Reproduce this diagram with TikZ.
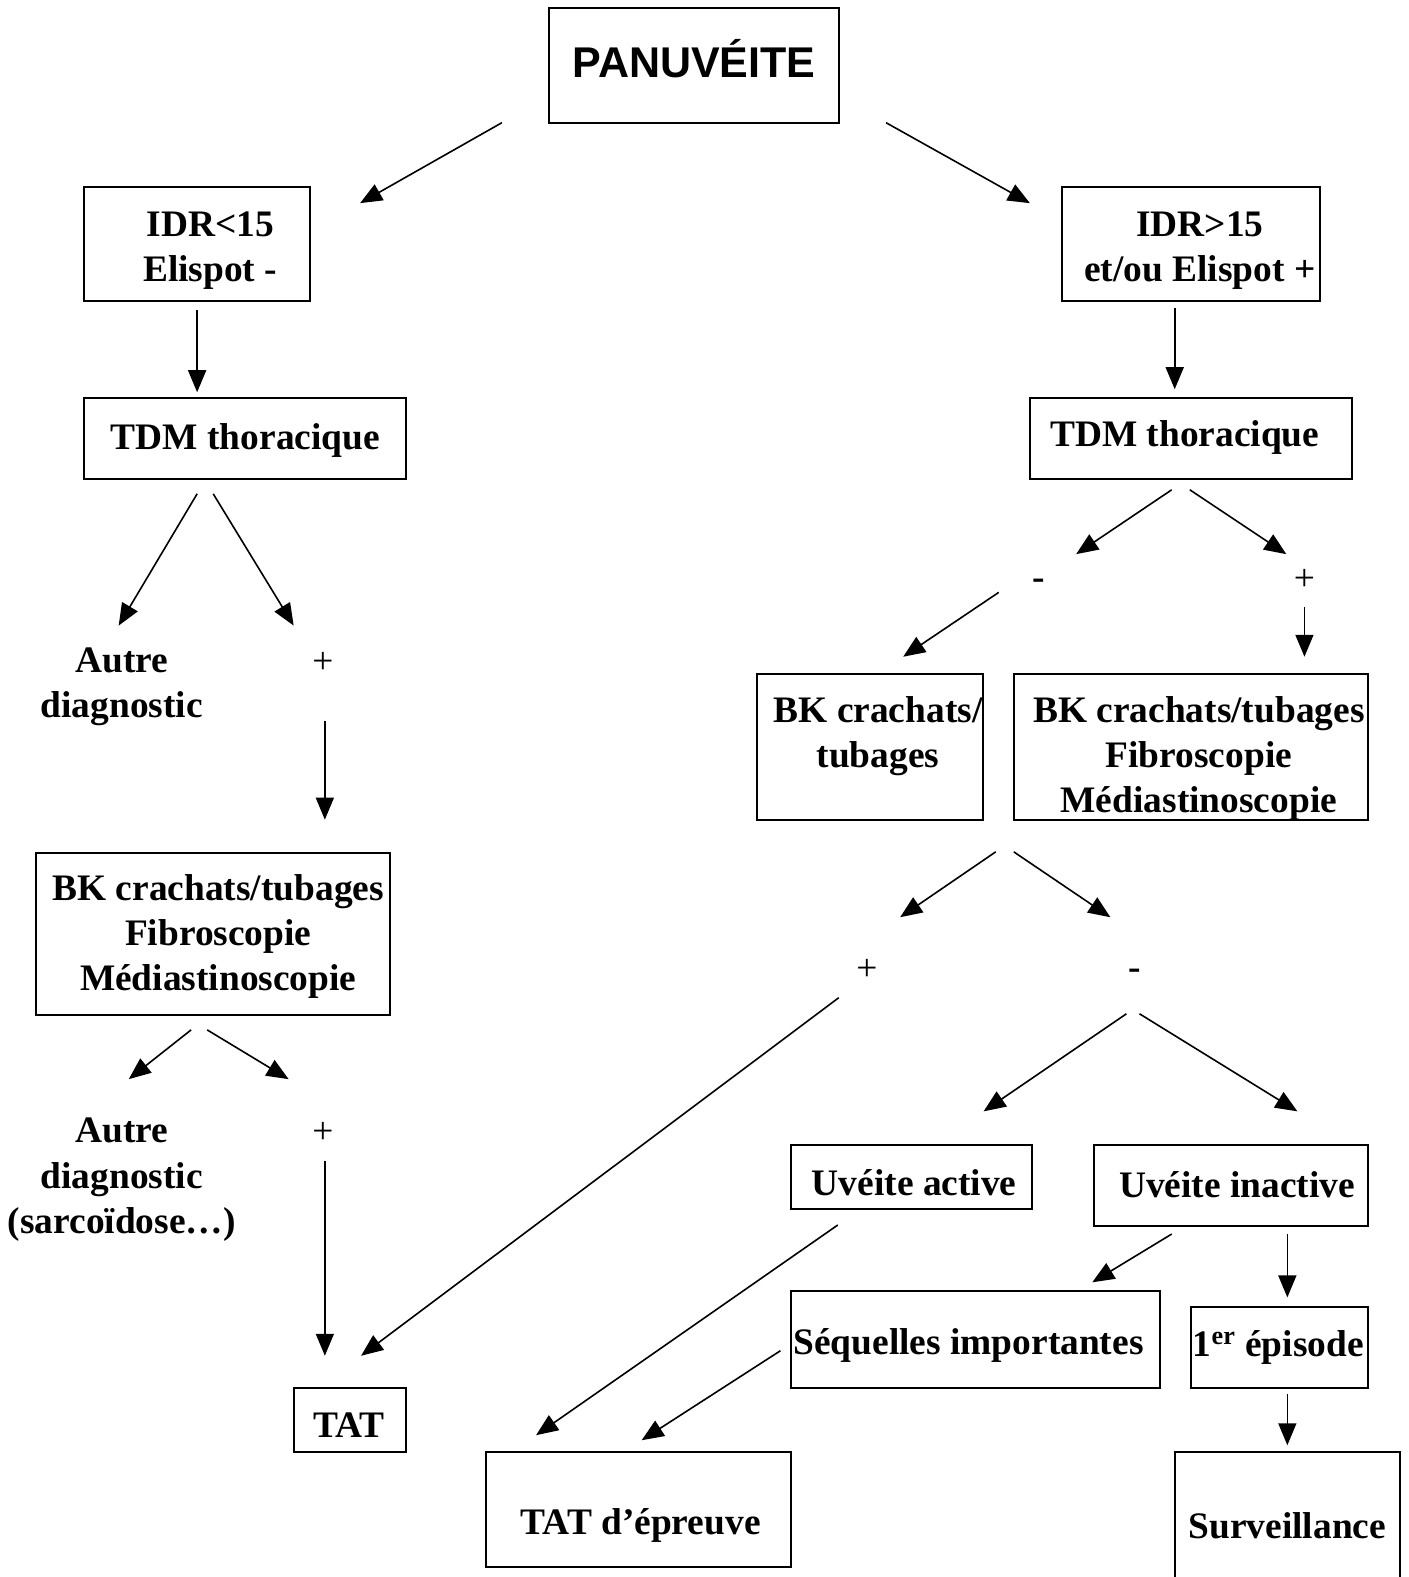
\documentclass[tikz,border=0pt]{standalone}
\usepackage{fontspec}
\setmainfont{Liberation Serif}
\newfontfamily\sansb{Liberation Sans}
\usetikzlibrary{arrows.meta,fit}
\begin{document}
\begin{tikzpicture}[x=0.50286pt,y=-0.50286pt,
  frame/.style={draw, line width=1pt, inner sep=0pt},
  lbl/.style={font=\fontsize{18.7}{22.6}\selectfont\bfseries, align=center, inner sep=0pt, yshift=-2pt},
  sgn/.style={font=\fontsize{18.7}{22.6}\selectfont, inner sep=0pt, yshift=-1pt},
  arr/.style={line width=0.8pt, -{Triangle[length=11pt,width=9pt]}}]
\useasboundingbox (0,0) rectangle (1400,1568);
\fill[white] (0,0) rectangle (1400,1568);
% boxes
\node[frame, fit={(546,8) (834,122)}] (pan) {};
\node[font=\sansb\fontsize{21.5}{24}\selectfont\bfseries, inner sep=0pt] (pant) at (690,58) {PANUVÉITE};
\node[frame, fit={(84,186) (308,299)}] (idrl) {};
\node[lbl] (idrlt) at (209,245) {IDR<15\\Elispot -};
\node[frame, fit={(1056,186) (1312,299)}] (idrr) {};
\node[lbl] (idrrt) at (1193,245) {IDR>15\\et/ou Elispot +};
\node[frame, fit={(84,396) (404,476)}] (tdml) {};
\node[lbl] (tdmlt) at (244,434) {TDM thoracique};
\node[frame, fit={(1024,396) (1344,476)}] (tdmr) {};
\node[lbl] (tdmrt) at (1178,431) {TDM thoracique};
\node[frame, fit={(753,670) (977,815)}] (bkm) {};
\node[lbl] (bkmt) at (873,728) {BK crachats/\\tubages};
\node[frame, fit={(1008,670) (1360,815)}] (bkr) {};
\node[lbl] (bkrt) at (1192,750) {BK crachats/tubages\\Fibroscopie\\Médiastinoscopie};
\node[frame, fit={(36,848) (388,1009)}] (bkl) {};
\node[lbl] (bklt) at (217,927) {BK crachats/tubages\\Fibroscopie\\Médiastinoscopie};
\node[frame, fit={(786,1138) (1026,1202)}] (uva) {};
\node[lbl] (uvat) at (909,1172) {Uvéite active};
\node[frame, fit={(1088,1138) (1360,1219)}] (uvi) {};
\node[lbl] (uvit) at (1230,1174) {Uvéite inactive};
\node[frame, fit={(786,1284) (1153,1380)}] (seq) {};
\node[lbl] (seqt) at (963,1334) {Séquelles importantes};
\node[frame, fit={(1184,1300) (1360,1380)}] (epi) {};
\node[lbl] (epit) at (1271,1336) {1\textsuperscript{er} épisode};
\node[frame, fit={(292,1380) (404,1444)}] (tat) {};
\node[lbl] (tatt) at (347,1413) {TAT};
\node[frame, fit={(483,1444) (786,1558)}] (tate) {};
\node[lbl] (tatet) at (637,1513) {TAT d’épreuve};
\begin{scope}
\clip (0,0) rectangle (1400,1568);
\node[frame, fit={(1168,1444) (1392,1590)}] (surv) {};
\end{scope}
\node[lbl] (survt) at (1280,1513) {Surveillance};
% free labels
\node[lbl] (autre1) at (121,679) {Autre\\diagnostic};
\node[sgn] (p1) at (321,657) {+};
\node[sgn] (m1) at (1033,579) {\bfseries -};
\node[sgn] (p2) at (1297,575) {+};
\node[sgn] (p3) at (862,962) {+};
\node[sgn] (m2) at (1128,967) {\bfseries -};
\node[lbl] (autre2) at (121,1169) {Autre\\diagnostic\\(sarcoïdose…)};
\node[sgn] (p4) at (321,1124) {+};
% arrow end points
\coordinate (a1s) at (499,122); \coordinate (a1e) at (358,202);
\coordinate (a2s) at (881,122); \coordinate (a2e) at (1024,202);
\coordinate (a3s) at (196,308); \coordinate (a3e) at (196,390);
\coordinate (a4s) at (1168,306); \coordinate (a4e) at (1168,387);
\coordinate (a5s) at (196,491); \coordinate (a5e) at (118,622);
\coordinate (a6s) at (212,491); \coordinate (a6e) at (292,622);
\coordinate (a7s) at (1165,487); \coordinate (a7e) at (1070,551);
\coordinate (a8s) at (1183,487); \coordinate (a8e) at (1279,551);
\coordinate (a9s) at (993,589); \coordinate (a9e) at (898,653);
\coordinate (a10s) at (1297,604); \coordinate (a10e) at (1297,653);
\coordinate (a11s) at (323,717); \coordinate (a11e) at (323,815);
\coordinate (a12s) at (190,1024); \coordinate (a12e) at (128,1073);
\coordinate (a13s) at (206,1024); \coordinate (a13e) at (287,1073);
\coordinate (a14s) at (323,1154); \coordinate (a14e) at (323,1348);
\coordinate (a15s) at (990,847); \coordinate (a15e) at (895,912);
\coordinate (a16s) at (1008,847); \coordinate (a16e) at (1104,912);
\coordinate (a17s) at (834,992); \coordinate (a17e) at (359,1348);
\coordinate (a18s) at (1120,1008); \coordinate (a18e) at (978,1105);
\coordinate (a19s) at (1133,1008); \coordinate (a19e) at (1290,1105);
\coordinate (a20s) at (833,1218); \coordinate (a20e) at (533,1427);
\coordinate (a21s) at (776,1343); \coordinate (a21e) at (638,1432);
\coordinate (a22s) at (1165,1227); \coordinate (a22e) at (1086,1275);
\coordinate (a23s) at (1280,1227); \coordinate (a23e) at (1280,1290);
\coordinate (a24s) at (1280,1386); \coordinate (a24e) at (1280,1437);
\foreach \i in {1,...,24} {\draw[arr] (a\i s) -- (a\i e);}
\end{tikzpicture}
\end{document}
